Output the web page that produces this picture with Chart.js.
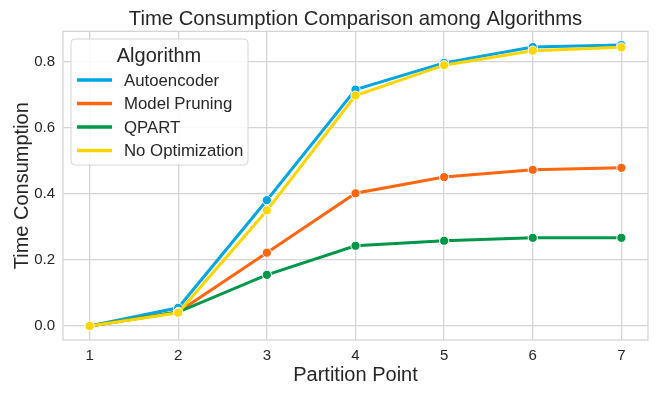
<!DOCTYPE html>
<html>
<head>
<meta charset="utf-8">
<script src="https://cdn.jsdelivr.net/npm/chart.js@4/dist/chart.umd.min.js"></script>
<style>
  html, body { margin: 0; padding: 0; background: #ffffff; }
  #wrap { width: 660px; height: 396px; }
</style>
</head>
<body>
<div id="wrap"><canvas id="c" width="660" height="396"></canvas></div>
<script>
const partitionPoints = [1, 2, 3, 4, 5, 6, 7];
const autoencoder     = [0.0, 0.055, 0.381, 0.716, 0.797, 0.845, 0.851];
const modelPruning    = [0.0, 0.042, 0.222, 0.402, 0.451, 0.473, 0.479];
const qpart           = [0.0, 0.042, 0.155, 0.243, 0.258, 0.267, 0.267];
const noOptimization  = [0.0, 0.040, 0.350, 0.698, 0.790, 0.834, 0.844];
const seriesNames     = ['Autoencoder', 'Model Pruning', 'QPART', 'No Optimization'];
const seriesColors    = ['#00a6e0', '#ff6610', '#00974a', '#ffd500'];
const yTickValues     = [0.0, 0.2, 0.4, 0.6, 0.8];
const xTickValues     = [1, 2, 3, 4, 5, 6, 7];

const FONT = '"Liberation Sans", Arial, "DejaVu Sans", sans-serif';
const TEXT = '#262626';
const GRID = '#d4d4d4';

const allSeries = [autoencoder, modelPruning, qpart, noOptimization];
const datasets = allSeries.map((vals, i) => ({
  label: seriesNames[i],
  data: partitionPoints.map((x, j) => ({ x: x, y: vals[j] })),
  borderColor: seriesColors[i],
  backgroundColor: seriesColors[i],
  pointBackgroundColor: seriesColors[i],
  pointBorderColor: '#ffffff',
  pointBorderWidth: 1,
  pointRadius: 4.6,
  borderWidth: 3,
  tension: 0,
  order: allSeries.length - i
}));

const frameAndLegend = {
  id: 'frameAndLegend',
  afterDatasetsDraw(chart) {
    const ctx = chart.ctx;
    const a = chart.chartArea;
    ctx.save();
    ctx.strokeStyle = GRID;
    ctx.lineWidth = 1.3;
    ctx.strokeRect(a.left, a.top, a.right - a.left, a.bottom - a.top);
    // legend
    const bx = 71, by = 39, bw = 177, bh = 126, r = 4;
    ctx.beginPath();
    ctx.moveTo(bx + r, by);
    ctx.lineTo(bx + bw - r, by);
    ctx.quadraticCurveTo(bx + bw, by, bx + bw, by + r);
    ctx.lineTo(bx + bw, by + bh - r);
    ctx.quadraticCurveTo(bx + bw, by + bh, bx + bw - r, by + bh);
    ctx.lineTo(bx + r, by + bh);
    ctx.quadraticCurveTo(bx, by + bh, bx, by + bh - r);
    ctx.lineTo(bx, by + r);
    ctx.quadraticCurveTo(bx, by, bx + r, by);
    ctx.closePath();
    ctx.fillStyle = 'rgba(255,255,255,0.85)';
    ctx.fill();
    ctx.strokeStyle = '#d6d6d6';
    ctx.lineWidth = 1;
    ctx.stroke();
    ctx.fillStyle = TEXT;
    ctx.textAlign = 'center';
    ctx.textBaseline = 'middle';
    ctx.font = '20px ' + FONT;
    ctx.fillText('Algorithm', 159, 56);
    chart.data.datasets.forEach((ds, i) => {
      const y = 80 + i * 23.5;
      ctx.strokeStyle = ds.borderColor;
      ctx.lineWidth = 3.5;
      ctx.beginPath();
      ctx.moveTo(77, y);
      ctx.lineTo(112, y);
      ctx.stroke();
      ctx.fillStyle = TEXT;
      ctx.textAlign = 'left';
      ctx.font = '16.8px ' + FONT;
      ctx.fillText(ds.label, 124, y + 1);
    });
    ctx.restore();
  }
};

new Chart(document.getElementById('c'), {
  type: 'line',
  data: { datasets: datasets },
  plugins: [frameAndLegend],
  options: {
    responsive: false,
    animation: false,
    devicePixelRatio: 1,
    layout: { padding: { top: 0, right: 12, left: 0, bottom: 0 } },
    plugins: {
      legend: { display: false },
      tooltip: { enabled: false },
      title: {
        display: true,
        text: 'Time Consumption Comparison among Algorithms',
        fullSize: false,
        color: TEXT,
        font: { family: FONT, size: 20.3, weight: 'normal', lineHeight: 1.2 },
        padding: { top: 7, bottom: 0 }
      }
    },
    scales: {
      x: {
        type: 'linear',
        min: 0.7,
        max: 7.3,
        afterBuildTicks(scale) { scale.ticks = xTickValues.map(v => ({ value: v })); },
        afterFit(scale) { scale.height = 56; },
        grid: { color: GRID, lineWidth: 1.3, drawTicks: false },
        border: { display: false },
        ticks: {
          color: TEXT,
          font: { family: FONT, size: 15 },
          padding: 7,
          maxRotation: 0,
          callback: v => String(v)
        },
        title: {
          display: true,
          text: 'Partition Point',
          color: TEXT,
          font: { family: FONT, size: 20, lineHeight: 1.2 },
          padding: { top: 0, bottom: 9 }
        }
      },
      y: {
        type: 'linear',
        min: -0.0425,
        max: 0.8925,
        afterBuildTicks(scale) { scale.ticks = yTickValues.map(v => ({ value: v })); },
        afterFit(scale) { scale.width = 63; },
        grid: { color: GRID, lineWidth: 1.3, drawTicks: false },
        border: { display: false },
        ticks: {
          color: TEXT,
          font: { family: FONT, size: 15 },
          padding: 8,
          callback: v => v.toFixed(1)
        },
        title: {
          display: true,
          text: 'Time Consumption',
          color: TEXT,
          font: { family: FONT, size: 20, lineHeight: 1.2 },
          padding: { top: 10, bottom: 0 }
        }
      }
    }
  }
});
</script>
</body>
</html>
